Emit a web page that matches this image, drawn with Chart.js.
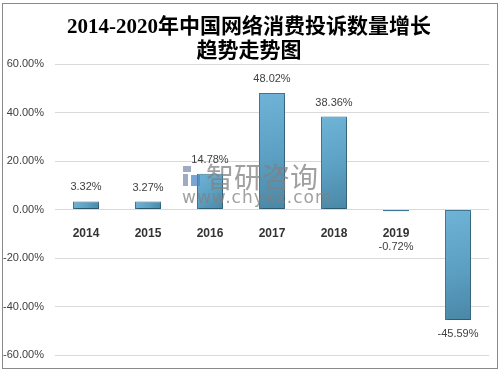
<!DOCTYPE html>
<html>
<head>
<meta charset="utf-8">
<script src="https://cdn.jsdelivr.net/npm/chart.js@4/dist/chart.umd.min.js"></script>
<style>
    body { margin: 0; background: #fff; }
    #wrap { position: relative; width: 502px; height: 373px; }
    #frame { position: absolute; left: 2px; top: 3px; width: 494px; height: 364px; border: 1px solid #8a8a8a; pointer-events: none; }
    canvas { position: absolute; left: 0; top: 0; }
</style>
</head>
<body>
<div id="wrap">
    <canvas id="growthChart" width="502" height="373"></canvas>
    <div id="frame"></div>
</div>
<script>
// Chart data
const years = ['2014', '2015', '2016', '2017', '2018', '2019', '2020'];
const growth = [3.32, 3.27, 14.78, 48.02, 38.36, -0.72, -45.59];
const yTicks = [-60, -40, -20, 0, 20, 40, 60];
const titleLines = ['2014-2020年中国网络消费投诉数量增长', '趋势走势图'];

const labelFont = '11px "Liberation Sans", Arial, sans-serif';

// Bar fill: lighter top-left, darker bottom-right
function barFill(context) {
    const chart = context.chart;
    const xs = chart.scales.x;
    const ys = chart.scales.y;
    if (!xs || !ys || !chart.chartArea) return '#5fa3c6';
    const v = growth[context.dataIndex];
    const cx = xs.getPixelForValue(context.dataIndex);
    const top = ys.getPixelForValue(Math.max(v, 0));
    const bottom = ys.getPixelForValue(Math.min(v, 0));
    const g = chart.ctx.createLinearGradient(cx - 13, top, cx + 13, bottom);
    g.addColorStop(0, '#6fb3d6');
    g.addColorStop(0.5, '#5da2c5');
    g.addColorStop(1, '#4a87a6');
    return g;
}

// Title, watermark, value labels
const decorPlugin = {
    id: 'decor',
    beforeDatasetsDraw(chart) {
        chart.ctx.save();
        chart.ctx.shadowColor = 'rgba(0,0,0,0.35)';
        chart.ctx.shadowBlur = 3;
        chart.ctx.shadowOffsetX = 1;
        chart.ctx.shadowOffsetY = 2;
    },
    afterDatasetsDraw(chart) {
        const ctx = chart.ctx;
        ctx.restore();

        // watermark
        ctx.save();
        ctx.globalAlpha = 0.75;
        ctx.fillStyle = '#7d8fb0';
        ctx.fillRect(183, 166, 8, 6);
        ctx.fillRect(183, 174, 5, 12);
        ctx.fillStyle = '#4f86c6';
        ctx.fillRect(191, 175, 9, 11);
        ctx.fillStyle = '#808080';
        ctx.font = '28px "Noto Sans CJK SC", sans-serif';
        ctx.textAlign = 'left';
        ctx.textBaseline = 'middle';
        ctx.fillText('智研咨询', 206, 177);
        ctx.font = '17px "DejaVu Sans", sans-serif';
        ctx.letterSpacing = '1px';
        ctx.fillText('www.chyxx.com', 182, 199);
        ctx.restore();

        // value labels
        const meta = chart.getDatasetMeta(0);
        const zeroY = chart.scales.y.getPixelForValue(0);
        ctx.save();
        ctx.font = labelFont;
        ctx.fillStyle = '#404040';
        ctx.textAlign = 'center';
        ctx.textBaseline = 'middle';
        meta.data.forEach((bar, i) => {
            const v = growth[i];
            const y = v >= 0 ? bar.y - 14 : Math.max(bar.y + 14, zeroY + 37);
            ctx.fillText(v.toFixed(2) + '%', bar.x, y);
        });
        ctx.restore();
    },
    afterDraw(chart) {
        const ctx = chart.ctx;
        ctx.save();
        ctx.font = 'bold 21px "Liberation Serif", "Noto Sans CJK SC", serif';
        ctx.fillStyle = '#000';
        ctx.textAlign = 'center';
        ctx.textBaseline = 'middle';
        ctx.fillText(titleLines[0], 249, 28);
        ctx.fillText(titleLines[1], 249, 52);
        ctx.restore();
    }
};

new Chart(document.getElementById('growthChart'), {
    type: 'bar',
    data: {
        labels: years,
        datasets: [{
            data: growth,
            backgroundColor: barFill,
            borderColor: '#3f7894',
            borderWidth: 1,
            borderSkipped: false,
            barPercentage: 0.42,
            categoryPercentage: 1
        }]
    },
    options: {
        responsive: false,
        animation: false,
        devicePixelRatio: 1,
        layout: { padding: { top: 64, right: 13, bottom: 18, left: 0 } },
        plugins: {
            legend: { display: false },
            tooltip: { enabled: false }
        },
        scales: {
            x: {
                position: { y: 0 },
                grid: { display: false },
                border: { display: false },
                ticks: {
                    padding: 9,
                    color: '#333',
                    font: { family: '"Liberation Sans", Arial, sans-serif', size: 12, weight: 'bold' },
                    maxRotation: 0
                }
            },
            y: {
                min: yTicks[0],
                max: yTicks[yTicks.length - 1],
                afterBuildTicks(scale) {
                    scale.ticks = yTicks.map(v => ({ value: v }));
                },
                afterFit(scale) {
                    scale.width = 55;
                },
                grid: { color: '#d9d9d9', drawTicks: false },
                border: { display: false },
                ticks: {
                    padding: 11,
                    color: '#404040',
                    font: { family: '"Liberation Sans", Arial, sans-serif', size: 11 },
                    callback: v => v.toFixed(2) + '%'
                }
            }
        }
    },
    plugins: [decorPlugin]
});
</script>
</body>
</html>
